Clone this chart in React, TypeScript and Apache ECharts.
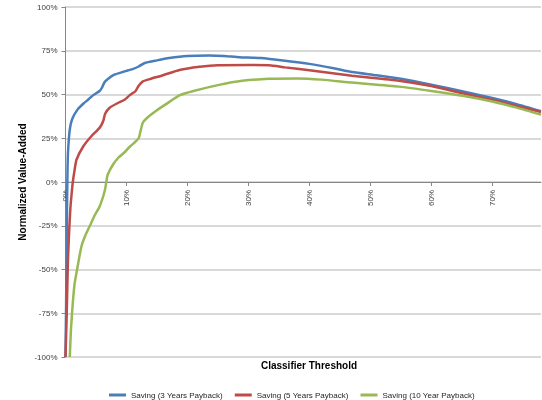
import React, { useEffect, useRef } from "react";
import * as echarts from "echarts";

// Classifier threshold (%) and normalized value-added (%) per series
const blueX = [0, 0.1, 0.2, 0.3, 0.4, 0.7, 1.1, 2.0, 3.0, 3.7, 4.5, 5.6, 6.0, 6.4, 7.0, 8.0, 9.5, 11.0, 12.0, 13.0, 15, 17, 20, 23.6, 26, 28.5, 32, 36, 40, 44, 47, 51, 55, 60, 65.6, 70, 74, 78];
const blueY = [-100, -70, -30, 0, 16, 30, 36, 41.5, 45, 47, 49.5, 52, 54, 57, 59, 61.3, 63, 64.5, 66, 68, 69.5, 70.8, 72, 72.3, 72, 71.3, 70.8, 69.3, 67.5, 65, 62.8, 61, 59, 55.6, 51.4, 48, 44.5, 40.5];

const redX = [0, 0.2, 0.4, 0.6, 0.8, 1.0, 1.2, 1.5, 1.8, 2.9, 4.2, 5.2, 5.8, 6.2, 6.5, 7.2, 8.5, 9.7, 10.5, 11.5, 12.0, 12.7, 14, 16, 18.7, 22, 25, 30, 33.4, 36, 40, 47, 54.7, 60, 65.6, 70, 74, 78];
const redY = [-100, -75, -45, -28, -15, -7, 0, 7, 12.7, 20.3, 26, 29.5, 32, 35, 39, 42.3, 45, 47, 49.5, 52, 55, 57.5, 59, 61, 64, 65.8, 66.7, 66.8, 66.7, 65.5, 63.8, 60.7, 57.9, 54.8, 50.3, 47, 43.5, 40];

const greenX = [0.7, 0.9, 1.2, 1.5, 1.9, 2.6, 3.2, 4.0, 4.8, 5.6, 6.2, 6.5, 6.7, 6.9, 7.8, 8.7, 9.7, 10.5, 11.3, 12.0, 12.3, 12.7, 13.5, 15, 16.5, 18.7, 21, 25.2, 29, 33.4, 38, 42, 47, 54.7, 60, 65.6, 70, 74, 78];
const greenY = [-100, -84, -69, -58, -50, -37, -31, -25, -19, -14, -8, -4, 0, 4, 10, 14, 17, 20, 22.5, 25, 29, 34, 37, 41, 44.5, 49.5, 52, 55.5, 57.8, 59, 59.2, 58.5, 56.8, 54.5, 52, 49, 46, 42.5, 38.5];

const seriesNames = [
  "Saving (3 Years Payback)",
  "Saving (5 Years Payback)",
  "Saving (10 Year Payback)",
];
const seriesColors = ["#4a7ebb", "#be4b48", "#98b954"];

const xTitle = "Classifier Threshold";
const yTitle = "Normalized Value-Added";

const FONT = "Liberation Sans";

function pairs(xs: number[], ys: number[]) {
  return xs.map((x, i) => [x, ys[i]]);
}

export default function App() {
  const ref = useRef<HTMLDivElement>(null);
  useEffect(() => {
    if (!ref.current) return;
    const chart = echarts.init(ref.current, undefined, { renderer: "svg" });
    const data = [pairs(blueX, blueY), pairs(redX, redY), pairs(greenX, greenY)];
    const gridTop = 7;
    const gridBottom = 43;
    const plotH = 400 - gridTop - gridBottom;
    chart.setOption({
      animation: false,
      textStyle: { fontFamily: FONT },
      grid: { left: 65.5, right: 1, top: gridTop, bottom: gridBottom, containLabel: false },
      xAxis: {
        type: "value",
        min: 0,
        max: 78,
        interval: 10,
        position: "bottom",
        offset: -plotH / 2,
        axisLine: { onZero: false, lineStyle: { color: "#868686", width: 1 } },
        axisTick: { show: true, length: 4, lineStyle: { color: "#868686" } },
        splitLine: { show: false },
        axisLabel: {
          rotate: 90,
          fontSize: 8,
          color: "#404040",
          margin: 8,
          showMaxLabel: false,
          formatter: (v: number) => `${v}%`,
        },
      },
      yAxis: {
        type: "value",
        min: -100,
        max: 100,
        interval: 25,
        axisLine: { show: true, onZero: false, lineStyle: { color: "#868686", width: 1 } },
        axisTick: { show: true, length: 4, lineStyle: { color: "#868686" } },
        splitLine: { show: true, lineStyle: { color: "#d9d9d9", width: 2 } },
        axisLabel: {
          fontSize: 8,
          color: "#404040",
          margin: 8,
          formatter: (v: number) => `${v}%`,
        },
      },
      legend: {
        left: 104,
        top: 386,
        icon: "rect",
        itemWidth: 17,
        itemHeight: 3,
        itemGap: 12,
        textStyle: { fontSize: 8, color: "#262626", fontFamily: FONT },
        data: seriesNames,
      },
      graphic: [
        {
          type: "text",
          x: 309,
          y: 365,
          style: {
            text: xTitle,
            font: `bold 10px "${FONT}"`,
            fill: "#000",
            align: "center",
            verticalAlign: "middle",
          },
        },
        {
          type: "text",
          x: 22,
          y: 182,
          rotation: Math.PI / 2,
          style: {
            text: yTitle,
            font: `bold 10px "${FONT}"`,
            fill: "#000",
            align: "center",
            verticalAlign: "middle",
          },
        },
      ],
      series: seriesNames.map((name, i) => ({
        name,
        type: "line",
        data: data[i],
        showSymbol: false,
        symbol: "none",
        smooth: 0.2,
        clip: true,
        lineStyle: { color: seriesColors[i], width: 2.5 },
        itemStyle: { color: seriesColors[i] },
      })),
    });
    return () => chart.dispose();
  }, []);
  return (
    <div
      ref={ref}
      style={{ position: "fixed", left: 0, top: 0, width: 542, height: 400 }}
    />
  );
}
